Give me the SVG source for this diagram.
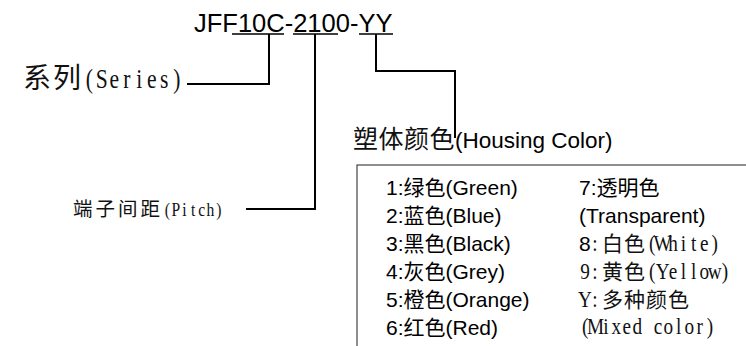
<svg xmlns="http://www.w3.org/2000/svg" width="746" height="346" viewBox="0 0 746 346">
<style>
.sans{font-family:"Liberation Sans","Noto Sans CJK SC",sans-serif;fill:#000}
.cjk{font-family:"Noto Sans CJK SC",sans-serif;fill:#111}
.ser{font-family:"Liberation Serif","Noto Sans CJK SC",serif;fill:#111;text-anchor:middle}
.conn{fill:none;stroke:#000;stroke-width:2}
.ul{stroke:#000;stroke-width:1.6}
.box{fill:none;stroke:#444;stroke-width:1.2}
.li{font-size:21px}
.r{font-size:24px}
</style>
<rect width="746" height="346" fill="#fff"/>
<g id="title">
<text class="sans" x="194" y="32" font-size="25.5">JFF10C-2100-YY</text>
<line class="ul" x1="232" y1="34" x2="284" y2="34"/>
<line class="ul" x1="293" y1="34" x2="338" y2="34"/>
<line class="ul" x1="359" y1="34" x2="393" y2="34"/>
</g>
<g id="connectors">
<path class="conn" d="M269,34 V84 H187"/>
<path class="conn" d="M315,34 V209 H246"/>
<path class="conn" d="M376,34 V71 H455 V138"/>
</g>
<g id="series">
<text class="cjk" x="23" y="88" font-size="28" letter-spacing="2">系列</text>
<text class="ser" transform="scale(0.8,1)" y="88" font-size="27" x="111.56 127.19 142.81 158.44 174.06 189.69 205.31 220.94">(Series)</text>
</g>
<g id="pitch">
<text class="cjk" x="73" y="216" font-size="19.5" letter-spacing="3">端子间距</text>
<text class="ser" transform="scale(0.8,1)" y="216" font-size="19.5" x="209.13 219.88 230.63 241.38 252.13 262.88 273.63">(Pitch)</text>
</g>
<g id="housing">
<text x="353" y="148"><tspan class="cjk" font-size="25" letter-spacing="0.5">塑体颜色</tspan><tspan class="sans" x="455" font-size="22.5">(Housing Color)</tspan></text>
<rect class="box" x="357" y="165" width="420" height="200"/>
<g class="sans li">
<text x="386" y="195">1:绿色(Green)</text>
<text x="386" y="223">2:蓝色(Blue)</text>
<text x="386" y="251">3:黑色(Black)</text>
<text x="386" y="279">4:灰色(Grey)</text>
<text x="386" y="307">5:橙色(Orange)</text>
<text x="386" y="335">6:红色(Red)</text>
<text x="579" y="195">7:透明色</text>
<text x="579" y="223">(Transparent)</text>
<text x="579" y="251">8</text>
</g>
<g transform="scale(0.8,1)">
<text class="ser r" x="743.75" y="251">:</text>
<text class="ser r" y="251" x="815.25 828.25 841.25 854.25 867.25 880.25 893.25">(White)</text>
<text class="ser r" y="279" x="731.25 743.75">9:</text>
<text class="ser r" y="279" x="815.25 828.25 841.25 854.25 867.25 880.25 893.25 906.25">(Yellow)</text>
<text class="ser r" y="307" x="731.25 743.75">Y:</text>
<text class="ser r" y="334" x="731.5 744.5 757.5 770.5 783.5 796.5 809.5 822.5 835.5 848.5 861.5 874.5 887.5">(Mixed color)</text>
</g>
<text class="cjk" x="602" y="251" font-size="21" letter-spacing="1">白色</text>
<text class="cjk" x="602" y="279" font-size="21" letter-spacing="1">黄色</text>
<text class="cjk" x="602" y="307" font-size="21" letter-spacing="1">多种颜色</text>
</g>
</svg>
